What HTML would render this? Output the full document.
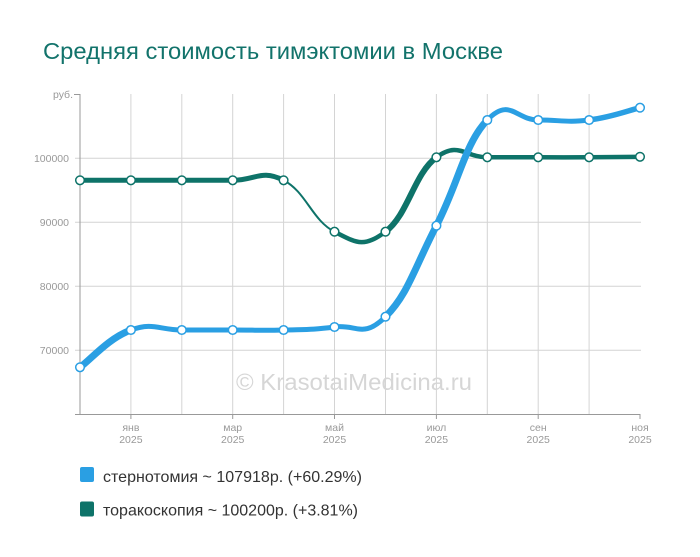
<!DOCTYPE html>
<html><head><meta charset="utf-8"><style>
html,body{margin:0;padding:0;background:#fff;}
svg{display:block;}
text{font-family:"Liberation Sans",Arial,sans-serif;}
</style></head><body>
<svg width="700" height="557" viewBox="0 0 700 557" xmlns="http://www.w3.org/2000/svg">
<rect width="700" height="557" fill="#fff"/>
<text x="43" y="59" font-size="23" fill="#12736b" textLength="460" lengthAdjust="spacingAndGlyphs">Средняя стоимость тимэктомии в Москве</text>
<g stroke="#d4d4d4" stroke-width="1" fill="none">
<line x1="75" y1="158.3" x2="641" y2="158.3"/>
<line x1="75" y1="222.3" x2="641" y2="222.3"/>
<line x1="75" y1="286.3" x2="641" y2="286.3"/>
<line x1="75" y1="350.3" x2="641" y2="350.3"/>
<line x1="130.9" y1="94" x2="130.9" y2="414"/>
<line x1="181.8" y1="94" x2="181.8" y2="414"/>
<line x1="232.7" y1="94" x2="232.7" y2="414"/>
<line x1="283.6" y1="94" x2="283.6" y2="414"/>
<line x1="334.5" y1="94" x2="334.5" y2="414"/>
<line x1="385.5" y1="94" x2="385.5" y2="414"/>
<line x1="436.4" y1="94" x2="436.4" y2="414"/>
<line x1="487.3" y1="94" x2="487.3" y2="414"/>
<line x1="538.2" y1="94" x2="538.2" y2="414"/>
<line x1="589.1" y1="94" x2="589.1" y2="414"/>
</g>
<text x="236" y="390" font-size="23" fill="#d6d6d6" textLength="236" lengthAdjust="spacingAndGlyphs">© KrasotaiMedicina.ru</text>
<g stroke="#999" stroke-width="1" fill="none">
<line x1="80" y1="94" x2="80" y2="414.5"/>
<line x1="74" y1="94.5" x2="80" y2="94.5"/>
<line x1="75" y1="414.5" x2="640.5" y2="414.5"/>
<line x1="130.9" y1="414" x2="130.9" y2="419"/>
<line x1="232.7" y1="414" x2="232.7" y2="419"/>
<line x1="334.5" y1="414" x2="334.5" y2="419"/>
<line x1="436.4" y1="414" x2="436.4" y2="419"/>
<line x1="538.2" y1="414" x2="538.2" y2="419"/>
<line x1="640" y1="414" x2="640" y2="419"/>
</g>
<g font-size="10.5" fill="#999" text-anchor="end">
<text x="73" y="98">руб.</text>
<text x="69" y="162">100000</text>
<text x="69" y="226">90000</text>
<text x="69" y="290">80000</text>
<text x="69" y="354">70000</text>
</g>
<g font-size="10.5" fill="#999" text-anchor="middle">
<text x="130.9" y="431">янв</text><text x="130.9" y="443">2025</text>
<text x="232.7" y="431">мар</text><text x="232.7" y="443">2025</text>
<text x="334.5" y="431">май</text><text x="334.5" y="443">2025</text>
<text x="436.4" y="431">июл</text><text x="436.4" y="443">2025</text>
<text x="538.2" y="431">сен</text><text x="538.2" y="443">2025</text>
<text x="640" y="431">ноя</text><text x="640" y="443">2025</text>
</g>
<!-- teal series -->
<g fill="none" stroke="#0e7369" stroke-linecap="round">
<path stroke-width="5" d="M80,180.3 C91.2,180.3 108.5,180.3 130.9,180.3 C153.3,180.3 159.4,180.3 181.8,180.3 C204.2,180.3 210.3,180.3 232.7,180.3 C255.1,180.3 261.2,169 283.6,180.3"/>
<path stroke-width="2" d="M283.6,180.3 C306,191.6 312.1,220.4 334.5,231.7"/>
<path stroke-width="4.5" d="M334.5,231.7 C356.9,243 363.1,248.1 385.5,231.7"/>
<path stroke-width="6" d="M385.5,231.7 C407.9,215.3 414,173.7 436.4,157.3"/>
<path stroke-width="4.5" d="M436.4,157.3 C458.8,140.9 464.9,157.3 487.3,157.3 C509.7,157.3 515.8,157.3 538.2,157.3 C560.6,157.3 566.7,157.4 589.1,157.3 C611.5,157.2 628.8,156.9 640,156.8"/>
</g>
<!-- blue series -->
<g fill="none" stroke="#2a9fe3" stroke-linecap="round">
<path stroke-width="7" d="M80,367.3 C91.2,359.1 108.5,338.2 130.9,330"/>
<path stroke-width="5" d="M130.9,330 C153.3,321.8 159.4,330 181.8,330 C204.2,330 210.3,330 232.7,330 C255.1,330 261.2,330.66 283.6,330 C306,329.34 312.1,329.93 334.5,327 C356.9,324.07 363.1,339 385.5,316.7"/>
<path stroke-width="7" d="M385.5,316.7 C407.9,294.4 414,269 436.4,225.7 C458.8,182.4 464.9,143.25 487.3,120"/>
<path stroke-width="5" d="M487.3,120 C509.7,96.75 515.8,120 538.2,120 C560.6,120 566.7,122.7 589.1,120"/>
<path stroke-width="5.5" d="M589.1,120 C611.5,117.3 628.8,110.4 640,107.7"/>
</g>
<!-- markers -->
<g fill="#fff" stroke="#0e7369" stroke-width="1.5">
<circle cx="80" cy="180.3" r="4.3"/><circle cx="130.9" cy="180.3" r="4.3"/><circle cx="181.8" cy="180.3" r="4.3"/><circle cx="232.7" cy="180.3" r="4.3"/><circle cx="283.6" cy="180.3" r="4.3"/><circle cx="334.5" cy="231.7" r="4.3"/><circle cx="385.5" cy="231.7" r="4.3"/><circle cx="436.4" cy="157.3" r="4.3"/><circle cx="487.3" cy="157.3" r="4.3"/><circle cx="538.2" cy="157.3" r="4.3"/><circle cx="589.1" cy="157.3" r="4.3"/><circle cx="640" cy="156.8" r="4.3"/>
</g>
<g fill="#fff" stroke="#2a9fe3" stroke-width="1.5">
<circle cx="80" cy="367.3" r="4.3"/><circle cx="130.9" cy="330" r="4.3"/><circle cx="181.8" cy="330" r="4.3"/><circle cx="232.7" cy="330" r="4.3"/><circle cx="283.6" cy="330" r="4.3"/><circle cx="334.5" cy="327" r="4.3"/><circle cx="385.5" cy="316.7" r="4.3"/><circle cx="436.4" cy="225.7" r="4.3"/><circle cx="487.3" cy="120" r="4.3"/><circle cx="538.2" cy="120" r="4.3"/><circle cx="589.1" cy="120" r="4.3"/><circle cx="640" cy="107.7" r="4.3"/>
</g>
<!-- legend -->
<rect x="80" y="467" width="14" height="15" rx="2" fill="#2a9fe3"/>
<text x="103" y="482" font-size="16" fill="#333" textLength="259" lengthAdjust="spacingAndGlyphs">стернотомия ~ 107918р. (+60.29%)</text>
<rect x="80" y="501.5" width="14" height="15" rx="2" fill="#0e7369"/>
<text x="103" y="515.5" font-size="16" fill="#333" textLength="255" lengthAdjust="spacingAndGlyphs">торакоскопия ~ 100200р. (+3.81%)</text>
</svg>
</body></html>
